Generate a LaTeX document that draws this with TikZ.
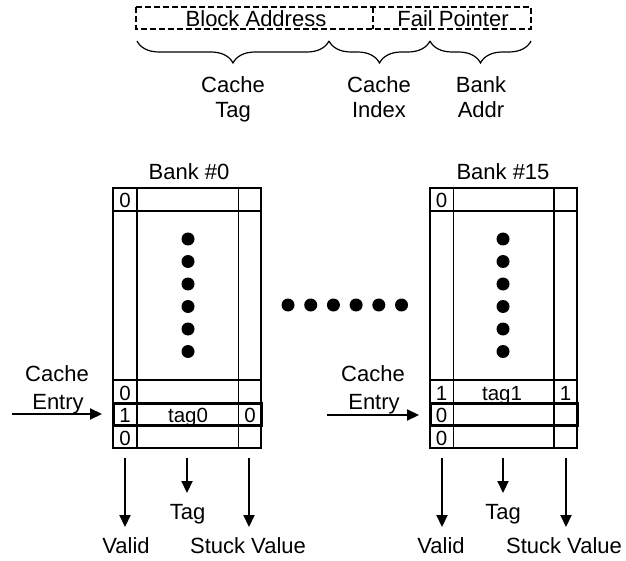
\documentclass[tikz,border=0pt]{standalone}
\usepackage{fontspec}
\setmainfont{Liberation Sans}
\usetikzlibrary{arrows.meta,decorations.pathreplacing}
\begin{document}
\begin{tikzpicture}[x=1pt,y=-1pt,
  lbl/.style={font=\fontsize{22}{26}\selectfont, inner sep=0pt, anchor=base},
  cell/.style={font=\fontsize{20.5}{24}\selectfont, inner sep=0pt, anchor=base},
  gridline/.style={line width=1.6pt},
  selrow/.style={line width=3pt},
  field/.style={line width=2.2pt, dash pattern=on 6pt off 3pt},
  brc/.style={line width=1.2pt, decorate, decoration={brace, mirror, amplitude=22pt}},
  flow/.style={line width=2.2pt, -{Triangle[length=12pt,width=11pt]}}
]
\useasboundingbox (0,0) rectangle (626,561);

% address fields
\draw[field] (136,7) rectangle (531,29);
\draw[field] (373,7) -- (373,29);
\node[lbl] (blk) at (256,27) {Block Address};
\node[lbl] (fail) at (453,27) {Fail Pointer};

% address split braces
\draw[brc] (137,41) -- (329,41);
\draw[brc] (329,41) -- (430,41);
\draw[brc] (430,41) -- (531,41);
\node[lbl] (tag1a) at (233,93) {Cache};
\node[lbl] (tag1b) at (233,118) {Tag};
\node[lbl] (idx1a) at (379,93) {Cache};
\node[lbl] (idx1b) at (379,118) {Index};
\node[lbl] (ba1a) at (481,93) {Bank};
\node[lbl] (ba1b) at (481,118) {Addr};

% bank #0
\node[lbl] (b0title) at (189,180) {Bank \#0};
\draw[gridline] (113,188) rectangle (261,448);
\foreach \yy in {211,380,403,425} \draw[gridline] (113,\yy) -- (261,\yy);
\draw[gridline] (137,188) -- (137,448);
\draw[gridline] (238.5,188) -- (238.5,448);
\draw[selrow] (113,403) rectangle (261,425);
\node[cell] (b0v0) at (125,208) {0};
\node[cell] (b0v1) at (125,400) {0};
\node[cell] (b0v2) at (125,422) {1};
\node[cell] (b0v3) at (125,445) {0};
\node[cell] (b0t2) at (188,422) {tag0};
\node[cell] (b0s2) at (250,422) {0};
\foreach \yy in {239,261.5,284,306.5,329,351.5} \fill (188,\yy) circle (6.5);

% banks in between
\foreach \i in {0,...,5} \fill (288+22.7*\i,305) circle (6.5);

% bank #15
\node[lbl] (b15title) at (503,180) {Bank \#15};
\draw[gridline] (430,188) rectangle (577,448);
\foreach \yy in {211,380,403,425} \draw[gridline] (430,\yy) -- (577,\yy);
\draw[gridline] (453.5,188) -- (453.5,448);
\draw[gridline] (554,188) -- (554,448);
\draw[selrow] (430,403) rectangle (577,425);
\node[cell] (b15v0) at (441.5,208) {0};
\node[cell] (b15v1) at (441.5,400) {1};
\node[cell] (b15v2) at (441.5,422) {0};
\node[cell] (b15v3) at (441.5,445) {0};
\node[cell] (b15t1) at (502,400) {tag1};
\node[cell] (b15s1) at (565.5,400) {1};
\foreach \yy in {239,261.5,284,306.5,329,351.5} \fill (503,\yy) circle (6.5);

% cache entry inputs
\node[lbl] (ce0a) at (57,381) {Cache};
\node[lbl] (ce0b) at (58,409) {Entry};
\coordinate (ce0s) at (12,414);
\coordinate (ce0t) at (102,414);
\draw[flow] (ce0s) -- (ce0t);
\node[lbl] (ce15a) at (373,381) {Cache};
\node[lbl] (ce15b) at (374,409) {Entry};
\coordinate (ce15s) at (327,415);
\coordinate (ce15t) at (419,415);
\draw[flow] (ce15s) -- (ce15t);

% outputs of bank #0
\coordinate (o0vs) at (125,458); \coordinate (o0ve) at (125,527);
\coordinate (o0ts) at (187,458); \coordinate (o0te) at (187,493);
\coordinate (o0ss) at (249,458); \coordinate (o0se) at (249,527);
\draw[flow] (o0vs) -- (o0ve);
\draw[flow] (o0ts) -- (o0te);
\draw[flow] (o0ss) -- (o0se);
\node[lbl] (o0tag) at (187.5,519) {Tag};
\node[lbl] (o0val) at (126,553) {Valid};
\node[lbl] (o0stk) at (248,553) {Stuck Value};

% outputs of bank #15
\coordinate (o15vs) at (442,458); \coordinate (o15ve) at (442,527);
\coordinate (o15ts) at (503,458); \coordinate (o15te) at (503,493);
\coordinate (o15ss) at (566,458); \coordinate (o15se) at (566,527);
\draw[flow] (o15vs) -- (o15ve);
\draw[flow] (o15ts) -- (o15te);
\draw[flow] (o15ss) -- (o15se);
\node[lbl] (o15tag) at (503,519) {Tag};
\node[lbl] (o15val) at (441,553) {Valid};
\node[lbl] (o15stk) at (564,553) {Stuck Value};
\end{tikzpicture}
\end{document}
